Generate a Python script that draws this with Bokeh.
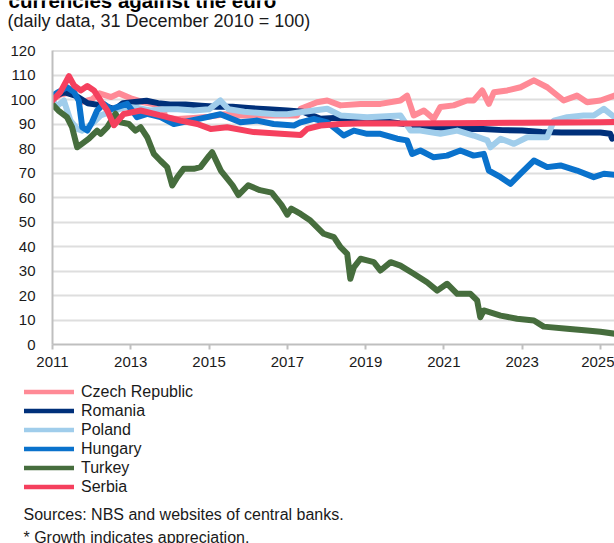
from bokeh.plotting import figure
from bokeh.models import Range1d, FixedTicker, Legend, LegendItem, Label, Span, ColumnDataSource
from bokeh.layouts import column
from bokeh.embed import file_html
from bokeh.resources import INLINE

# ---------------- data (index, 31 Dec 2010 = 100) ----------------
cz_x = [2011.0, 2011.2, 2011.5, 2011.75, 2012.0, 2012.2, 2012.5, 2012.7, 2013.0, 2013.3, 2013.6, 2013.83,
        2013.88, 2014.2, 2014.6, 2015.0, 2015.4, 2015.8, 2016.3, 2016.8, 2017.25, 2017.34, 2017.76, 2018.02,
        2018.36, 2018.87, 2019.38, 2019.89, 2020.06, 2020.23, 2020.49, 2020.74, 2020.91, 2021.25, 2021.59,
        2021.76, 2021.98, 2022.15, 2022.28, 2022.62, 2022.96, 2023.30, 2023.64, 2024.06, 2024.40, 2024.66,
        2025.0, 2025.36]
cz_y = [100, 102, 103, 99, 100, 102.5, 101, 102.5, 100.5, 99, 98, 97,
        92.5, 92, 92.5, 93, 94, 93.5, 93.5, 93.5, 93.5, 96.2, 98.9, 99.6,
        97.6, 98.2, 98.2, 99.6, 101.6, 93.5, 95.5, 92.1, 96.9, 97.6, 99.6,
        99.6, 103.7, 98.2, 103, 103.7, 105, 107.8, 105, 99.6, 101.6, 98.9,
        99.6, 101.6]

ro_x = [2011.0, 2011.3, 2011.6, 2011.9, 2012.3, 2012.6, 2012.8, 2013.1, 2013.4, 2013.7, 2014.0, 2014.4,
        2014.8, 2015.2, 2015.6, 2016.0, 2016.5, 2017.0, 2017.4, 2017.85, 2018.2, 2018.6, 2019.0, 2019.5,
        2020.0, 2020.5, 2021.0, 2021.5, 2022.0, 2022.5, 2023.0, 2023.5, 2024.0, 2024.5, 2025.0, 2025.25,
        2025.3, 2025.36]
ro_y = [101, 103, 101.5, 98.5, 97.5, 96, 98.5, 99, 99.5, 98.5, 98, 98,
        97.5, 97, 97, 96.5, 96, 95.5, 95, 92.1, 92.5, 91.5, 91, 91,
        90, 89, 88.5, 88, 88, 87.5, 87.3, 86.7, 86.5, 86.5, 86.5, 86,
        84, 84.5]

pl_x = [2011.0, 2011.08, 2011.29, 2011.46, 2011.63, 2011.76, 2012.06, 2012.23, 2012.57, 2012.9, 2013.2,
        2013.5, 2013.8, 2014.2, 2014.6, 2015.0, 2015.29, 2015.5, 2015.9, 2016.3, 2016.7, 2017.0, 2017.34,
        2018.02, 2018.36, 2019.04, 2019.89, 2020.15, 2020.40, 2020.91, 2021.34, 2021.76, 2022.11, 2022.19,
        2022.45, 2022.79, 2023.13, 2023.64, 2023.81, 2024.15, 2024.57, 2024.83, 2025.09, 2025.36]
pl_y = [101, 96.9, 99.6, 91.4, 88, 87.3, 90.7, 93.5, 95.5, 97, 96.5,
        95.5, 96, 96, 95.5, 96, 99.6, 96, 95, 94.5, 94, 94, 94.8,
        96.2, 93.5, 92.8, 93.5, 87.3, 87.3, 86, 87.3, 85.3, 83.3, 80.5,
        84, 81.9, 84.6, 84.6, 91.4, 92.8, 93.5, 93.5, 96.2, 92.8]

hu_x = [2011.0, 2011.15, 2011.37, 2011.55, 2011.67, 2011.76, 2011.89, 2012.01, 2012.14, 2012.31, 2012.5,
        2012.65, 2012.91, 2013.16, 2013.42, 2013.76, 2014.1, 2014.53, 2014.95, 2015.29, 2015.8, 2016.23,
        2016.65, 2017.17, 2017.34, 2017.68, 2018.02, 2018.44, 2018.70, 2019.04, 2019.38, 2019.81, 2020.06,
        2020.19, 2020.40, 2020.74, 2021.08, 2021.42, 2021.76, 2022.02, 2022.15, 2022.45, 2022.70, 2022.96,
        2023.30, 2023.64, 2023.98, 2024.40, 2024.83, 2025.09, 2025.36]
hu_y = [101.5, 103, 105, 103, 99.6, 88.7, 87.3, 90.7, 95.5, 98.2, 96,
        96.9, 98.2, 92.8, 94.1, 92.8, 90, 91.4, 92.8, 94, 90.7, 91.4,
        90, 89.4, 90.7, 92.1, 90.7, 85.3, 87.3, 86, 86, 84, 83.3,
        77.8, 79.2, 76.4, 77.1, 79.2, 77.1, 77.8, 71, 68.3, 65.6, 69.7,
        75.1, 72.4, 73.1, 71, 68.3, 69.7, 69.3]

tr_x = [2011.0, 2011.15, 2011.37, 2011.5, 2011.63, 2011.76, 2011.93, 2012.14, 2012.23, 2012.4, 2012.61,
        2012.74, 2012.95, 2013.12, 2013.25, 2013.42, 2013.59, 2013.76, 2013.93, 2014.06, 2014.19, 2014.35,
        2014.61, 2014.78, 2015.0, 2015.08, 2015.3, 2015.6, 2015.75, 2016.0, 2016.3, 2016.6, 2016.85, 2017.0,
        2017.1, 2017.34, 2017.59, 2017.93, 2018.19, 2018.36, 2018.53, 2018.61, 2018.70, 2018.87, 2019.04,
        2019.21, 2019.38, 2019.64, 2019.89, 2020.23, 2020.57, 2020.83, 2021.08, 2021.34, 2021.68, 2021.85,
        2021.93, 2022.02, 2022.45, 2022.87, 2023.30, 2023.55, 2024.15, 2024.66, 2025.0, 2025.36]
tr_y = [98, 95.5, 92.8, 88.7, 80.5, 82, 84, 87.3, 86, 88.7, 94.2,
        90.7, 90, 87.3, 88.7, 84.6, 77.8, 75, 72.4, 64.9, 68.3, 71.7,
        71.7, 72.4, 77, 78.5, 71, 65, 61, 65, 63, 62, 57, 53,
        55.5, 53.3, 50.6, 45.2, 43.8, 39.7, 37, 26.8, 31.5, 35, 34.3,
        33.6, 30.2, 33.6, 32.2, 28.9, 25.4, 22, 24.8, 20.7, 20.7, 18,
        11.1, 13.9, 11.8, 10.5, 9.8, 7.3, 6.4, 5.7, 5.2, 4.4]

rs_x = [2011.0, 2011.2, 2011.42, 2011.55, 2011.72, 2011.89, 2012.06, 2012.25, 2012.4, 2012.57, 2012.82,
        2013.25, 2013.76, 2014.27, 2014.70, 2015.04, 2015.46, 2016.14, 2016.83, 2017.34, 2017.51, 2017.85,
        2018.36, 2019.0, 2020.0, 2021.0, 2022.0, 2023.0, 2024.0, 2025.0, 2025.36]
rs_y = [99.6, 103, 109.5, 105.7, 103.7, 105.5, 103.7, 99, 95.5, 89.5, 94.1,
        95.5, 93.5, 91.4, 90, 88, 88.7, 86.7, 86, 85.5, 88, 89.4,
        90, 90.3, 90.2, 90.3, 90.4, 90.5, 90.6, 90.7, 90.8]

series_names = ["Czech Republic", "Romania", "Poland", "Hungary", "Turkey", "Serbia"]
series_colors = ["#FF8A96", "#00307A", "#A0CDEB", "#0A72CC", "#466D3D", "#F5405E"]
x_ticks = [2011, 2013, 2015, 2017, 2019, 2021, 2023, 2025]
y_ticks = list(range(0, 121, 10))

title_text = "currencies against the euro"
subtitle_text = "(daily data, 31 December 2010 = 100)"
source_text = "Sources: NBS and websites of central banks."
note_text = "* Growth indicates appreciation."

FONT = "Liberation Sans"
TXT = "#1a1a1a"
W = 614
H_TOP, H_MAIN, H_BOT = 40, 340, 163


def blank(h):
    f = figure(width=W, height=h, output_backend="svg", toolbar_location=None,
               x_range=Range1d(0, W), y_range=Range1d(h, 0),
               x_axis_type=None, y_axis_type=None, frame_align=False,
               min_border_left=0, min_border_right=0, min_border_top=0, min_border_bottom=0)
    f.outline_line_color = None
    f.xgrid.visible = False
    f.ygrid.visible = False
    f.background_fill_color = "white"
    f.border_fill_color = "white"
    return f


def lab(text, x, y, size, bold=False):
    return Label(x=x, y=y, text=text, text_font=FONT, text_font_size=size,
                 text_color="black" if bold else TXT,
                 text_font_style="bold" if bold else "normal", text_baseline="alphabetic")


# ---------------- title strip ----------------
top = blank(H_TOP)
top.add_layout(lab(title_text, 8, 0, "20.5px", bold=True))
top.add_layout(lab(subtitle_text, 7, 20, "18px"))

# ---------------- main chart ----------------
p = figure(width=W, height=H_MAIN, output_backend="svg", toolbar_location=None,
           x_range=Range1d(2011, 2025.36), y_range=Range1d(0, 120), frame_align=False,
           min_border_left=52, min_border_right=0, min_border_top=10, min_border_bottom=36)
p.outline_line_color = None
p.background_fill_color = "white"
p.border_fill_color = "white"

p.xaxis.ticker = FixedTicker(ticks=x_ticks)
p.yaxis.ticker = FixedTicker(ticks=y_ticks)
for ax in (p.xaxis[0], p.yaxis[0]):
    ax.axis_line_color = "#bfbfbf"
    ax.axis_line_width = 2
    ax.major_tick_line_color = "#bfbfbf"
    ax.major_tick_line_width = 2
    ax.minor_tick_line_color = None
    ax.major_tick_in = 0
    ax.major_label_text_font = FONT
    ax.major_label_text_font_size = "15px"
    ax.major_label_text_color = TXT
p.xaxis.major_tick_out = 5
p.xaxis.major_label_standoff = 7
p.yaxis.major_tick_out = 0
p.yaxis.major_label_standoff = 17

p.xgrid.visible = False
p.ygrid.ticker = FixedTicker(ticks=y_ticks)
p.ygrid.grid_line_color = "#dedede"
p.ygrid.grid_line_width = 2
p.add_layout(Span(location=120, dimension="width", line_color="#bfbfbf", line_width=2))

xs = [cz_x, ro_x, pl_x, hu_x, tr_x, rs_x]
ys = [cz_y, ro_y, pl_y, hu_y, tr_y, rs_y]
for col, x, y in zip(series_colors, xs, ys):
    src = ColumnDataSource(dict(x=x, y=y))
    p.line("x", "y", source=src, line_color=col, line_width=6,
           line_join="round", line_cap="round")

# ---------------- legend + notes strip ----------------
bot = blank(H_BOT)
items = []
for name, col in zip(series_names, series_colors):
    # legend-only renderer: a single undefined point, nothing is drawn in the frame
    r = bot.line(x=[float("nan")], y=[float("nan")], line_color=col, line_width=4.5, line_cap="round")
    items.append(LegendItem(label=name, renderers=[r]))
legend = Legend(items=items, location=(24, 47), orientation="vertical",
                glyph_width=50, glyph_height=19, label_height=19, label_standoff=7,
                spacing=0, padding=0, margin=0, border_line_color=None,
                background_fill_alpha=0, label_text_font=FONT,
                label_text_font_size="16px", label_text_color=TXT)
bot.add_layout(legend)
bot.add_layout(lab(source_text, 23, 134, "16px"))
bot.add_layout(lab(note_text, 23, 157, "16px"))

layout = column(top, p, bot, spacing=0)
open("out.html", "w").write(file_html(layout, INLINE))
